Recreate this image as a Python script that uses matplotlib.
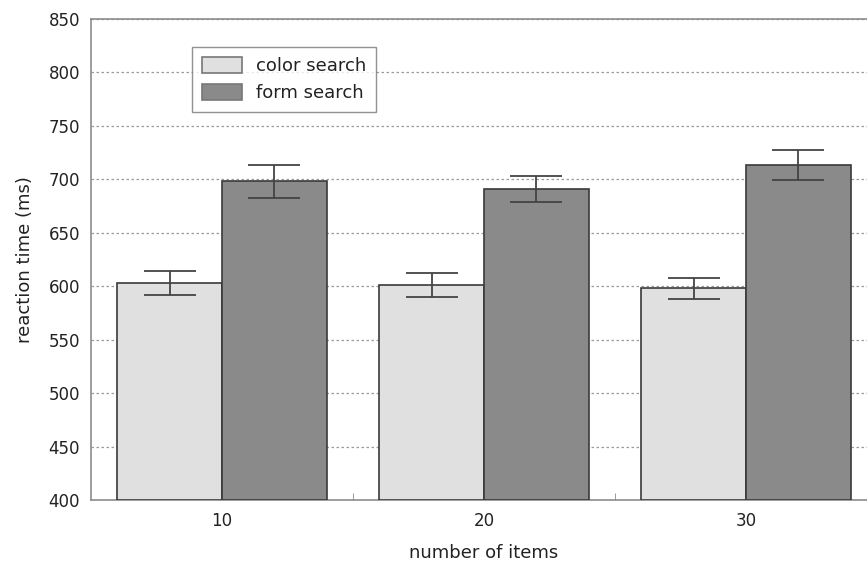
import matplotlib
matplotlib.use("Agg")
import matplotlib.pyplot as plt
from matplotlib.ticker import FixedLocator
import numpy as np

plt.rcParams['font.family'] = ['DejaVu Sans']

# number of items per display
categories = ["10", "20", "30"]
# mean reaction times (ms) and error-bar half widths
color_rt = [603, 601, 598]
color_err = [11, 11, 10]
form_rt = [698, 691, 713]
form_err = [15, 12, 14]
yticks = [400, 450, 500, 550, 600, 650, 700, 750, 800, 850]

fig = plt.figure(figsize=(8.67, 5.63), dpi=100)
# axes runs slightly past the right edge of the figure
ax = fig.add_axes([91 / 867, 1 - 500 / 563, (877 - 91) / 867, (500 - 19) / 563])

x = np.arange(len(categories))
w = 0.4
edge = "#3a3a3a"
ax.bar(x - w / 2, [v - 400 for v in color_rt], w, bottom=400, color="#e0e0e0",
       edgecolor=edge, linewidth=1.2, zorder=3, label="color search")
ax.bar(x + w / 2, [v - 400 for v in form_rt], w, bottom=400, color="#8a8a8a",
       edgecolor=edge, linewidth=1.2, zorder=3, label="form search")
ax.errorbar(x - w / 2, color_rt, yerr=color_err, fmt="none", ecolor="#444444",
            elinewidth=1.3, capsize=19, capthick=1.3, zorder=4)
ax.errorbar(x + w / 2, form_rt, yerr=form_err, fmt="none", ecolor="#444444",
            elinewidth=1.3, capsize=19, capthick=1.3, zorder=4)

ax.set_xlim(-0.5, 2.5)
ax.set_ylim(400, 850)
ax.set_yticks(yticks)
ax.set_xticks(x)
ax.set_xticklabels(categories)
ax.xaxis.set_minor_locator(FixedLocator([0.5, 1.5]))
ax.tick_params(axis="x", which="major", length=0, pad=9, labelsize=12, labelcolor="#222222")
ax.tick_params(axis="x", which="minor", direction="in", length=5, color="#888888")
ax.tick_params(axis="y", length=0, pad=8, labelsize=12, labelcolor="#222222")

ax.yaxis.grid(True, linestyle=(0, (2, 2)), color="#9a9a9a", linewidth=0.9, zorder=0)
ax.set_axisbelow(True)
for s in ax.spines.values():
    s.set_color("#8c8c8c")
    s.set_linewidth(1.2)

ax.set_xlabel("number of items", fontsize=13, labelpad=10, color="#222222")
ax.set_ylabel("reaction time (ms)", fontsize=13, labelpad=10, color="#222222")

leg = ax.legend(loc="upper left", bbox_to_anchor=((192 - 91) / 786, 1 - (47 - 19) / 481),
                fontsize=13, frameon=True, fancybox=False, edgecolor="#777777",
                handlelength=2.2, handleheight=1.0, borderpad=0.55, labelspacing=0.5,
                handletextpad=0.8, borderaxespad=0)
leg.get_frame().set_linewidth(1.0)
for t in leg.get_texts():
    t.set_color("#222222")
for h in leg.legend_handles:
    h.set_edgecolor("#777777")

fig.savefig("out.png", dpi=100)
